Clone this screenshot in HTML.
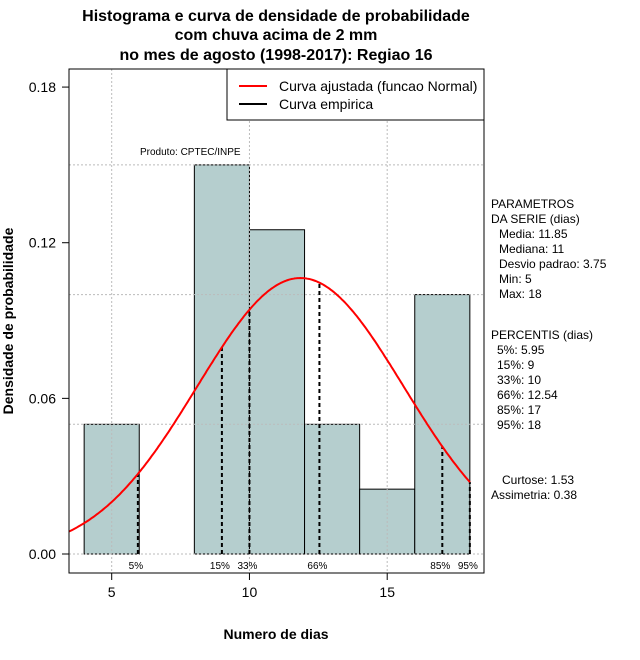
<!DOCTYPE html>
<html><head><meta charset="utf-8">
<style>
html,body{margin:0;padding:0;background:#fff;}
svg{display:block;font-family:"Liberation Sans",sans-serif;}
</style></head>
<body>
<svg id="chart" width="640" height="660" viewBox="0 0 640 660" xmlns="http://www.w3.org/2000/svg">
<g font-weight="bold" font-size="16" text-anchor="middle">
<text x="276" y="21">Histograma e curva de densidade de probabilidade</text>
<text x="276" y="40">com chuva acima de 2 mm</text>
<text x="276" y="60">no mes de agosto (1998-2017): Regiao 16</text>
</g>
<g id="bars"></g>
<g id="grid"></g>
<g id="pct"></g>
<path id="curve" fill="none" stroke="#ff0000" stroke-width="2"/>
<rect x="69" y="69" width="415" height="504" fill="none" stroke="#000"/>
<g id="axes" font-size="14"></g>
<text x="276" y="639" text-anchor="middle" font-weight="bold" font-size="14">Numero de dias</text>
<text transform="translate(13,321) rotate(-90)" text-anchor="middle" font-weight="bold" font-size="14">Densidade de probabilidade</text>
<text x="140" y="155" font-size="10">Produto: CPTEC/INPE</text>
<g>
<rect x="227" y="69" width="257" height="51" fill="#fff" stroke="#000"/>
<line x1="239" y1="86" x2="267" y2="86" stroke="#ff0000" stroke-width="2"/>
<line x1="239" y1="104" x2="267" y2="104" stroke="#000" stroke-width="2"/>
<text x="279" y="91" font-size="14">Curva ajustada (funcao Normal)</text>
<text x="279" y="109" font-size="14">Curva empirica</text>
</g>
<g font-size="12">
<text x="491" y="208">PARAMETROS</text>
<text x="491" y="223">DA SERIE (dias)</text>
<text x="499" y="238">Media: 11.85</text>
<text x="499" y="253">Mediana: 11</text>
<text x="499" y="268">Desvio padrao: 3.75</text>
<text x="499" y="283">Min: 5</text>
<text x="499" y="298">Max: 18</text>
<text x="491" y="339">PERCENTIS (dias)</text>
<text x="497" y="354">5%: 5.95</text>
<text x="497" y="369">15%: 9</text>
<text x="497" y="384">33%: 10</text>
<text x="497" y="399">66%: 12.54</text>
<text x="497" y="414">85%: 17</text>
<text x="497" y="429">95%: 18</text>
<text x="502" y="484">Curtose: 1.53</text>
<text x="491" y="499">Assimetria: 0.38</text>
</g>
</svg>
<script>
const binEdges = [4, 6, 8, 10, 12, 14, 16, 18];
const densities = [0.05, 0, 0.15, 0.125, 0.05, 0.025, 0.1];
const pctValues = [5.95, 9, 10, 12.54, 17, 18];
const pctLabels = ["5%", "15%", "33%", "66%", "85%", "95%"];
const fitMean = 11.85;
const fitSd = 3.75;
const xTicks = [5, 10, 15];
const yTicks = [0, 0.06, 0.12, 0.18];
const yTickLabels = ["0.00", "0.06", "0.12", "0.18"];
const hGrid = [0, 0.05, 0.10, 0.15];

const NS = "http://www.w3.org/2000/svg";
const X = v => 111.7 + (v - 5) * 27.55;
const Y = v => 554 - v * 2594;
function el(tag, attrs, parent) {
  const e = document.createElementNS(NS, tag);
  for (const k in attrs) e.setAttribute(k, attrs[k]);
  parent.appendChild(e);
  return e;
}
const dens = x => Math.exp(-0.5 * ((x - fitMean) / fitSd) ** 2) / (fitSd * Math.sqrt(2 * Math.PI));

const grid = document.getElementById('grid');
hGrid.forEach(v => {
  const l = el('line', {x1: 69, x2: 484, y1: Y(v), y2: Y(v), stroke: '#bbb', 'stroke-dasharray': '2,2'}, grid);
  
  
});
xTicks.forEach(v => {
  const l = el('line', {x1: X(v), x2: X(v), y1: 69, y2: 573, stroke: '#bbb', 'stroke-dasharray': '2,2'}, grid);
  
  
});

const bars = document.getElementById('bars');
densities.forEach((d, i) => {
  if (d <= 0) return;
  const x0 = X(binEdges[i]), x1 = X(binEdges[i + 1]);
  const r = el('rect', {x: x0, y: Y(d), width: x1 - x0, height: Y(0) - Y(d), fill: '#b5cece', stroke: '#000', 'stroke-width': 1}, bars);
  
  
});

const pct = document.getElementById('pct');
pctValues.forEach((v, i) => {
  const l = el('line', {x1: X(v), x2: X(v), y1: Y(0), y2: Y(dens(v)), stroke: '#000', 'stroke-width': 2, 'stroke-dasharray': '4,3'}, pct);
  
  
  const t = el('text', {x: X(v) - 2, y: 569, 'font-size': 10, 'text-anchor': 'middle'}, pct);
  t.textContent = pctLabels[i];
  
  
});

let d = '';
for (let x = 3.45; x <= 18.001; x += 0.05) {
  d += (d ? 'L' : 'M') + X(x).toFixed(1) + ',' + Y(dens(x)).toFixed(1);
}
document.getElementById('curve').setAttribute('d', d);

const axes = document.getElementById('axes');
xTicks.forEach(v => {
  el('line', {x1: X(v), x2: X(v), y1: 573, y2: 580, stroke: '#000'}, axes);
  const t = el('text', {x: X(v), y: 597, 'text-anchor': 'middle'}, axes);
  t.textContent = v;
  
  
});
yTicks.forEach((v, i) => {
  el('line', {x1: 62, x2: 69, y1: Y(v), y2: Y(v), stroke: '#000'}, axes);
  const t = el('text', {x: 56, y: Y(v) + 5, 'text-anchor': 'end'}, axes);
  t.textContent = yTickLabels[i];
  
  
});
</script>
</body></html>
